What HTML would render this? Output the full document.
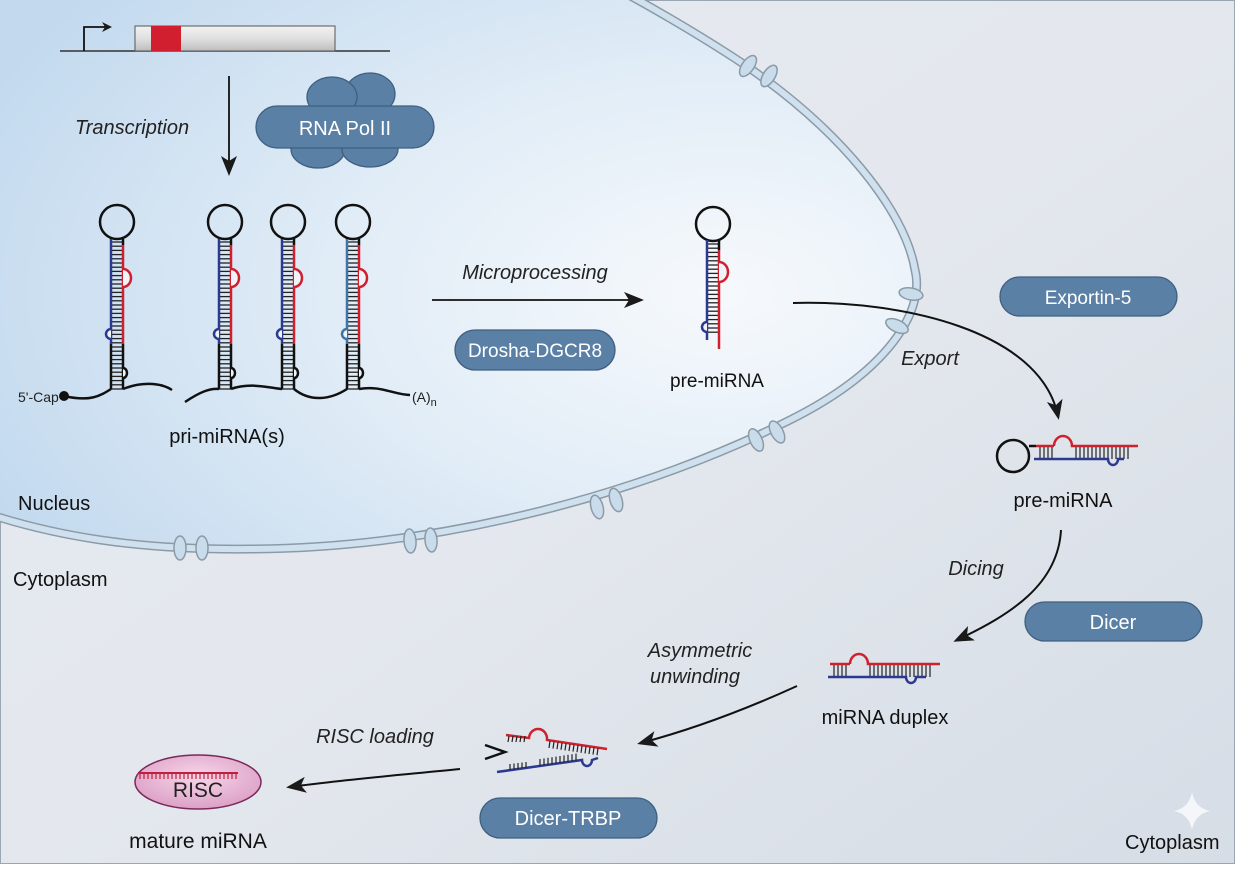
<!DOCTYPE html>
<html><head><meta charset="utf-8"><style>
html,body{margin:0;padding:0;}
body{width:1235px;height:864px;overflow:hidden;font-family:"Liberation Sans",sans-serif;}
svg text{font-family:"Liberation Sans",sans-serif;}
</style></head><body>
<svg id="s" width="1235" height="864" viewBox="0 0 1235 864" xmlns="http://www.w3.org/2000/svg">
<defs>
<linearGradient id="bg" x1="0" y1="0" x2="1" y2="1">
<stop offset="0" stop-color="#e6ebf1"/><stop offset="0.5" stop-color="#e4e8ee"/><stop offset="1" stop-color="#d6dde6"/></linearGradient>
<radialGradient id="nuc" cx="0.8" cy="0.55" r="0.85">
<stop offset="0" stop-color="#f6f9fc"/><stop offset="0.45" stop-color="#e2edf7"/><stop offset="1" stop-color="#c2d9ee"/></radialGradient>
<linearGradient id="gene" x1="0" y1="0" x2="0" y2="1">
<stop offset="0" stop-color="#f2f2f2"/><stop offset="0.5" stop-color="#e0e0e0"/><stop offset="1" stop-color="#bdbdbd"/></linearGradient>
<radialGradient id="risc" cx="0.5" cy="0.4" r="0.6">
<stop offset="0" stop-color="#f6d6ea"/><stop offset="1" stop-color="#dca0c6"/></radialGradient>
<marker id="ah" markerWidth="10" markerHeight="10" refX="8" refY="5" orient="auto" markerUnits="userSpaceOnUse" viewBox="0 0 10 10">
<path d="M0,0 L10,5 L0,10 L3,5 Z" fill="#1a1a1a"/></marker>
<marker id="ahb" markerWidth="20" markerHeight="20" refX="16" refY="10" orient="auto" markerUnits="userSpaceOnUse" viewBox="0 0 20 20">
<path d="M0,2 L20,10 L0,18 L5,10 Z" fill="#1a1a1a"/></marker>
</defs>
<rect width="1235" height="864" fill="url(#bg)"/>
<rect x="0.5" y="0.5" width="1234" height="863" fill="none" stroke="#9aa6b4" stroke-width="1"/>
<!-- nucleus -->
<path d="M-50,500 C50,540 150,550 250,549 C450,548 650,490 790,420 C890,370 925,310 915,270 C905,210 840,130 745,65 C700,35 640,0 600,-20 L-50,-20 Z" fill="url(#nuc)"/>
<path id="mem" d="M-50,500 C50,540 150,550 250,549 C450,548 650,490 790,420 C890,370 925,310 915,270 C905,210 840,130 745,65 C700,35 640,0 600,-20" fill="none" stroke="#8c9aa6" stroke-width="9"/>
<path d="M-50,500 C50,540 150,550 250,549 C450,548 650,490 790,420 C890,370 925,310 915,270 C905,210 840,130 745,65 C700,35 640,0 600,-20" fill="none" stroke="#cfe0ee" stroke-width="6"/>
<g id="pores" fill="#c9dcec" stroke="#8c9aa6" stroke-width="1.5"></g>
<!-- gene -->
<line x1="60" y1="51" x2="390" y2="51" stroke="#333" stroke-width="1.5"/>
<path d="M84,51 V27 H110" fill="none" stroke="#111" stroke-width="1.8" marker-end="url(#ah)"/>
<rect x="135" y="26" width="200" height="25" fill="url(#gene)" stroke="#555" stroke-width="1"/>
<rect x="151" y="26" width="30" height="25" fill="#d11f2f"/>
<!-- transcription -->
<text x="75" y="134" font-size="20" font-style="italic" fill="#222">Transcription</text>
<line x1="229" y1="76" x2="229" y2="172" stroke="#111" stroke-width="1.8" marker-end="url(#ahb)"/>
<g fill="#5b80a5" stroke="#3e5f80" stroke-width="1.3">
<ellipse cx="370" cy="94" rx="25" ry="21"/>
<ellipse cx="332" cy="97" rx="25" ry="20"/>
<ellipse cx="318" cy="149" rx="27" ry="19"/>
<ellipse cx="370" cy="149" rx="28" ry="18"/>
<rect x="256" y="106" width="178" height="42" rx="21"/>
</g>
<text x="345" y="135" font-size="20" fill="#fff" text-anchor="middle">RNA Pol II</text>
<!-- pri miRNA -->
<g id="pri"></g>
<text x="18" y="402" font-size="14" fill="#222">5'-Cap</text>
<circle cx="64" cy="396" r="5" fill="#111"/>
<text x="412" y="402" font-size="14" fill="#222">(A)<tspan font-size="11" dy="4">n</tspan></text>
<text x="227" y="443" font-size="20" text-anchor="middle" fill="#111">pri-miRNA(s)</text>
<!-- microprocessing -->
<text x="535" y="279" font-size="20" font-style="italic" text-anchor="middle" fill="#222">Microprocessing</text>
<line x1="432" y1="300" x2="640" y2="300" stroke="#111" stroke-width="1.8" marker-end="url(#ahb)"/>
<rect x="455" y="330" width="160" height="40" rx="20" fill="#5b80a5" stroke="#3e5f80" stroke-width="1.3"/>
<text x="535" y="357" font-size="19" fill="#fff" text-anchor="middle">Drosha-DGCR8</text>
<g id="pre1"></g>
<text x="717" y="387" font-size="19" text-anchor="middle" fill="#111">pre-miRNA</text>
<!-- export -->
<rect x="1000" y="277" width="177" height="39" rx="19.5" fill="#5b80a5" stroke="#3e5f80" stroke-width="1.3"/>
<text x="1088" y="304" font-size="19" fill="#fff" text-anchor="middle">Exportin-5</text>
<path d="M793,303 C900,300 1040,330 1058,416" fill="none" stroke="#111" stroke-width="2" marker-end="url(#ahb)"/>
<text x="930" y="365" font-size="20" font-style="italic" text-anchor="middle" fill="#222">Export</text>
<g id="pre2"></g>
<text x="1063" y="507" font-size="20" text-anchor="middle" fill="#111">pre-miRNA</text>
<!-- dicing -->
<text x="976" y="575" font-size="20" font-style="italic" text-anchor="middle" fill="#222">Dicing</text>
<path d="M1061,530 C1058,585 1010,615 957,640" fill="none" stroke="#111" stroke-width="2" marker-end="url(#ahb)"/>
<rect x="1025" y="602" width="177" height="39" rx="19.5" fill="#5b80a5" stroke="#3e5f80" stroke-width="1.3"/>
<text x="1113" y="629" font-size="20" fill="#fff" text-anchor="middle">Dicer</text>
<g id="dup"></g>
<text x="885" y="724" font-size="20" text-anchor="middle" fill="#111">miRNA duplex</text>
<!-- unwinding -->
<text x="700" y="657" font-size="20" font-style="italic" text-anchor="middle" fill="#222">Asymmetric</text>
<text x="695" y="683" font-size="20" font-style="italic" text-anchor="middle" fill="#222">unwinding</text>
<path d="M797,686 C740,712 690,730 641,743" fill="none" stroke="#111" stroke-width="2" marker-end="url(#ahb)"/>
<g id="unw"></g>
<text x="375" y="743" font-size="20" font-style="italic" text-anchor="middle" fill="#222">RISC loading</text>
<path d="M460,769 C400,775 340,780 290,787" fill="none" stroke="#111" stroke-width="2" marker-end="url(#ahb)"/>
<rect x="480" y="798" width="177" height="40" rx="20" fill="#5b80a5" stroke="#3e5f80" stroke-width="1.3"/>
<text x="568" y="825" font-size="20" fill="#fff" text-anchor="middle">Dicer-TRBP</text>
<!-- RISC -->
<ellipse cx="198" cy="782" rx="63" ry="27" fill="url(#risc)" stroke="#7a2a5a" stroke-width="1.5"/>
<g id="riscr"></g>
<text x="198" y="797" font-size="21" text-anchor="middle" fill="#222">RISC</text>
<text x="198" y="848" font-size="21" text-anchor="middle" fill="#111">mature miRNA</text>
<text x="18" y="510" font-size="20" fill="#111">Nucleus</text>
<text x="13" y="586" font-size="20" fill="#111">Cytoplasm</text>
<text x="1125" y="849" font-size="20" fill="#111">Cytoplasm</text>
<path d="M1192,792 Q1195,808 1210,811 Q1195,814 1192,830 Q1189,814 1174,811 Q1189,808 1192,792Z" fill="#f4f6f9"/>
</svg>
<script>
var NS="http://www.w3.org/2000/svg";
function el(p,t,a){var e=document.createElementNS(NS,t);for(var k in a)e.setAttribute(k,a[k]);document.getElementById(p).appendChild(e);return e;}
var pp=[[748,66,125],[769,76,122],[911,294,10],[897,326,25],[756,440,65],[777,432,62],[597,507,75],[616,500,73],[410,541,85],[431,540,85],[180,548,90],[202,548,90]];
pp.forEach(function(p){el("pores","ellipse",{cx:p[0],cy:p[1],rx:12,ry:6,transform:"rotate("+p[2]+" "+p[0]+" "+p[1]+")"});});
var B="#2b3990",R="#d0202e",LB="#3f74a8";
function stem(g,cx,top,len,lc){
 var lx=cx-6,rx=cx+6,y0=top+34,y1=y0+len;
 el(g,"circle",{cx:cx,cy:top+17,r:17,fill:"none",stroke:"#111","stroke-width":2.5});
 var cut=y0+len*0.7;
 for(var y=y0+3;y<y1;y+=4.2){el(g,"line",{x1:lx,y1:y,x2:rx,y2:y,stroke:"#222","stroke-width":1.3});}
 el(g,"line",{x1:lx,y1:y0,x2:lx,y2:cut,stroke:lc,"stroke-width":2.5});
 el(g,"line",{x1:rx,y1:y0,x2:rx,y2:y0+6,stroke:"#111","stroke-width":2.5});
 el(g,"line",{x1:rx,y1:y0+6,x2:rx,y2:cut,stroke:R,"stroke-width":2.5});
 el(g,"line",{x1:lx,y1:cut,x2:lx,y2:y1,stroke:"#111","stroke-width":2.5});
 el(g,"line",{x1:rx,y1:cut,x2:rx,y2:y1,stroke:"#111","stroke-width":2.5});
 var b1=y0+len*0.2;el(g,"path",{d:"M"+rx+","+b1+" a8,9 0 0 1 0,18",fill:"#eef4fa",stroke:R,"stroke-width":2.5});
 var b2=y0+len*0.6;el(g,"path",{d:"M"+lx+","+b2+" a5,5 0 0 0 0,10",fill:"#eef4fa",stroke:lc,"stroke-width":2.5});
 var b3=y0+len*0.86;el(g,"path",{d:"M"+rx+","+b3+" a4,5 0 0 1 0,10",fill:"#eef4fa",stroke:"#111","stroke-width":2.5});
}
[117,225,288,353].forEach(function(x,i){stem("pri",x,205,150,i==3?LB:B);});
el("pri","path",{d:"M64,396 C90,402 100,396 111,389 M123,389 C140,382 160,382 172,390 M185,402 C200,392 210,388 219,389 M231,389 C250,382 270,388 282,389 M294,389 C310,402 330,400 347,389 M359,389 C380,385 395,395 410,395",fill:"none",stroke:"#111","stroke-width":2.5});
(function(){var g="pre1",cx=713,lx=cx-6,rx=cx+6;el(g,"circle",{cx:cx,cy:224,r:17,fill:"none",stroke:"#111","stroke-width":2.5});
for(var y=244;y<336;y+=4.2)el(g,"line",{x1:lx,y1:y,x2:rx,y2:y,stroke:"#222","stroke-width":1.3});
el(g,"line",{x1:lx,y1:240,x2:lx,y2:340,stroke:B,"stroke-width":2.5});
el(g,"line",{x1:rx,y1:240,x2:rx,y2:250,stroke:"#111","stroke-width":2.5});
el(g,"line",{x1:rx,y1:250,x2:rx,y2:349,stroke:R,"stroke-width":2.5});
el(g,"path",{d:"M"+rx+",262 a9,10 0 0 1 0,20",fill:"#eef4fa",stroke:R,"stroke-width":2.5});
el(g,"path",{d:"M"+lx+",322 a5,5 0 0 0 0,10",fill:"#eef4fa",stroke:B,"stroke-width":2.5});})();
function hdup(g,x0,x1,y,bx,ux){
 for(var x=x0+4;x<x1-8;x+=4){if(x>bx-2&&x<bx+20)continue;el(g,"line",{x1:x,y1:y,x2:x,y2:y+13,stroke:"#222","stroke-width":1.2});}
 el(g,"line",{x1:x0,y1:y,x2:bx,y2:y,stroke:R,"stroke-width":2.5});
 el(g,"path",{d:"M"+bx+","+y+" a9,10 0 0 1 18,0 H"+x1,fill:"none",stroke:R,"stroke-width":2.5});
 el(g,"path",{d:"M"+(x0-2)+","+(y+13)+" H"+ux+" a5,6 0 0 0 10,0 H"+(x1-14),fill:"none",stroke:B,"stroke-width":2.5});
}
el("pre2","circle",{cx:1013,cy:456,r:16,fill:"none",stroke:"#111","stroke-width":2.5});
el("pre2","line",{x1:1029,y1:446,x2:1036,y2:446,stroke:"#111","stroke-width":2.5});
hdup("pre2",1036,1138,446,1054,1108);
hdup("dup",830,940,664,850,906);
(function(){var g="unw";
el(g,"path",{d:"M485,745 L505,752 L485,759",fill:"none",stroke:"#111","stroke-width":2.5});
el(g,"path",{d:"M506,735 L529,738 a9,10 0 0 1 18,2 L607,749",fill:"none",stroke:R,"stroke-width":2.5});
for(var i=0;i<5;i++){var x=509+i*4;el(g,"line",{x1:x,y1:736,x2:x-1,y2:742,stroke:"#222","stroke-width":1.2});}
for(var i=0;i<13;i++){var x=550+i*4;el(g,"line",{x1:x,y1:741+i*0.6,x2:x-1,y2:748+i*0.6,stroke:"#222","stroke-width":1.2});}
el(g,"path",{d:"M497,772 L582,760 a5,6 0 0 0 10,0 L598,758",fill:"none",stroke:B,"stroke-width":2.5});
for(var i=0;i<5;i++){var x=510+i*4;el(g,"line",{x1:x,y1:770-i*0.5,x2:x,y2:764-i*0.5,stroke:"#222","stroke-width":1.2});}
for(var i=0;i<10;i++){var x=540+i*4;el(g,"line",{x1:x,y1:766-i*0.6,x2:x,y2:759-i*0.6,stroke:"#222","stroke-width":1.2});}
})();
el("riscr","line",{x1:138,y1:773,x2:238,y2:773,stroke:"#c0203a","stroke-width":2});
for(var x=140;x<238;x+=4)el("riscr","line",{x1:x,y1:773,x2:x,y2:779,stroke:"#c0203a","stroke-width":1.2});
</script>
</body></html>
